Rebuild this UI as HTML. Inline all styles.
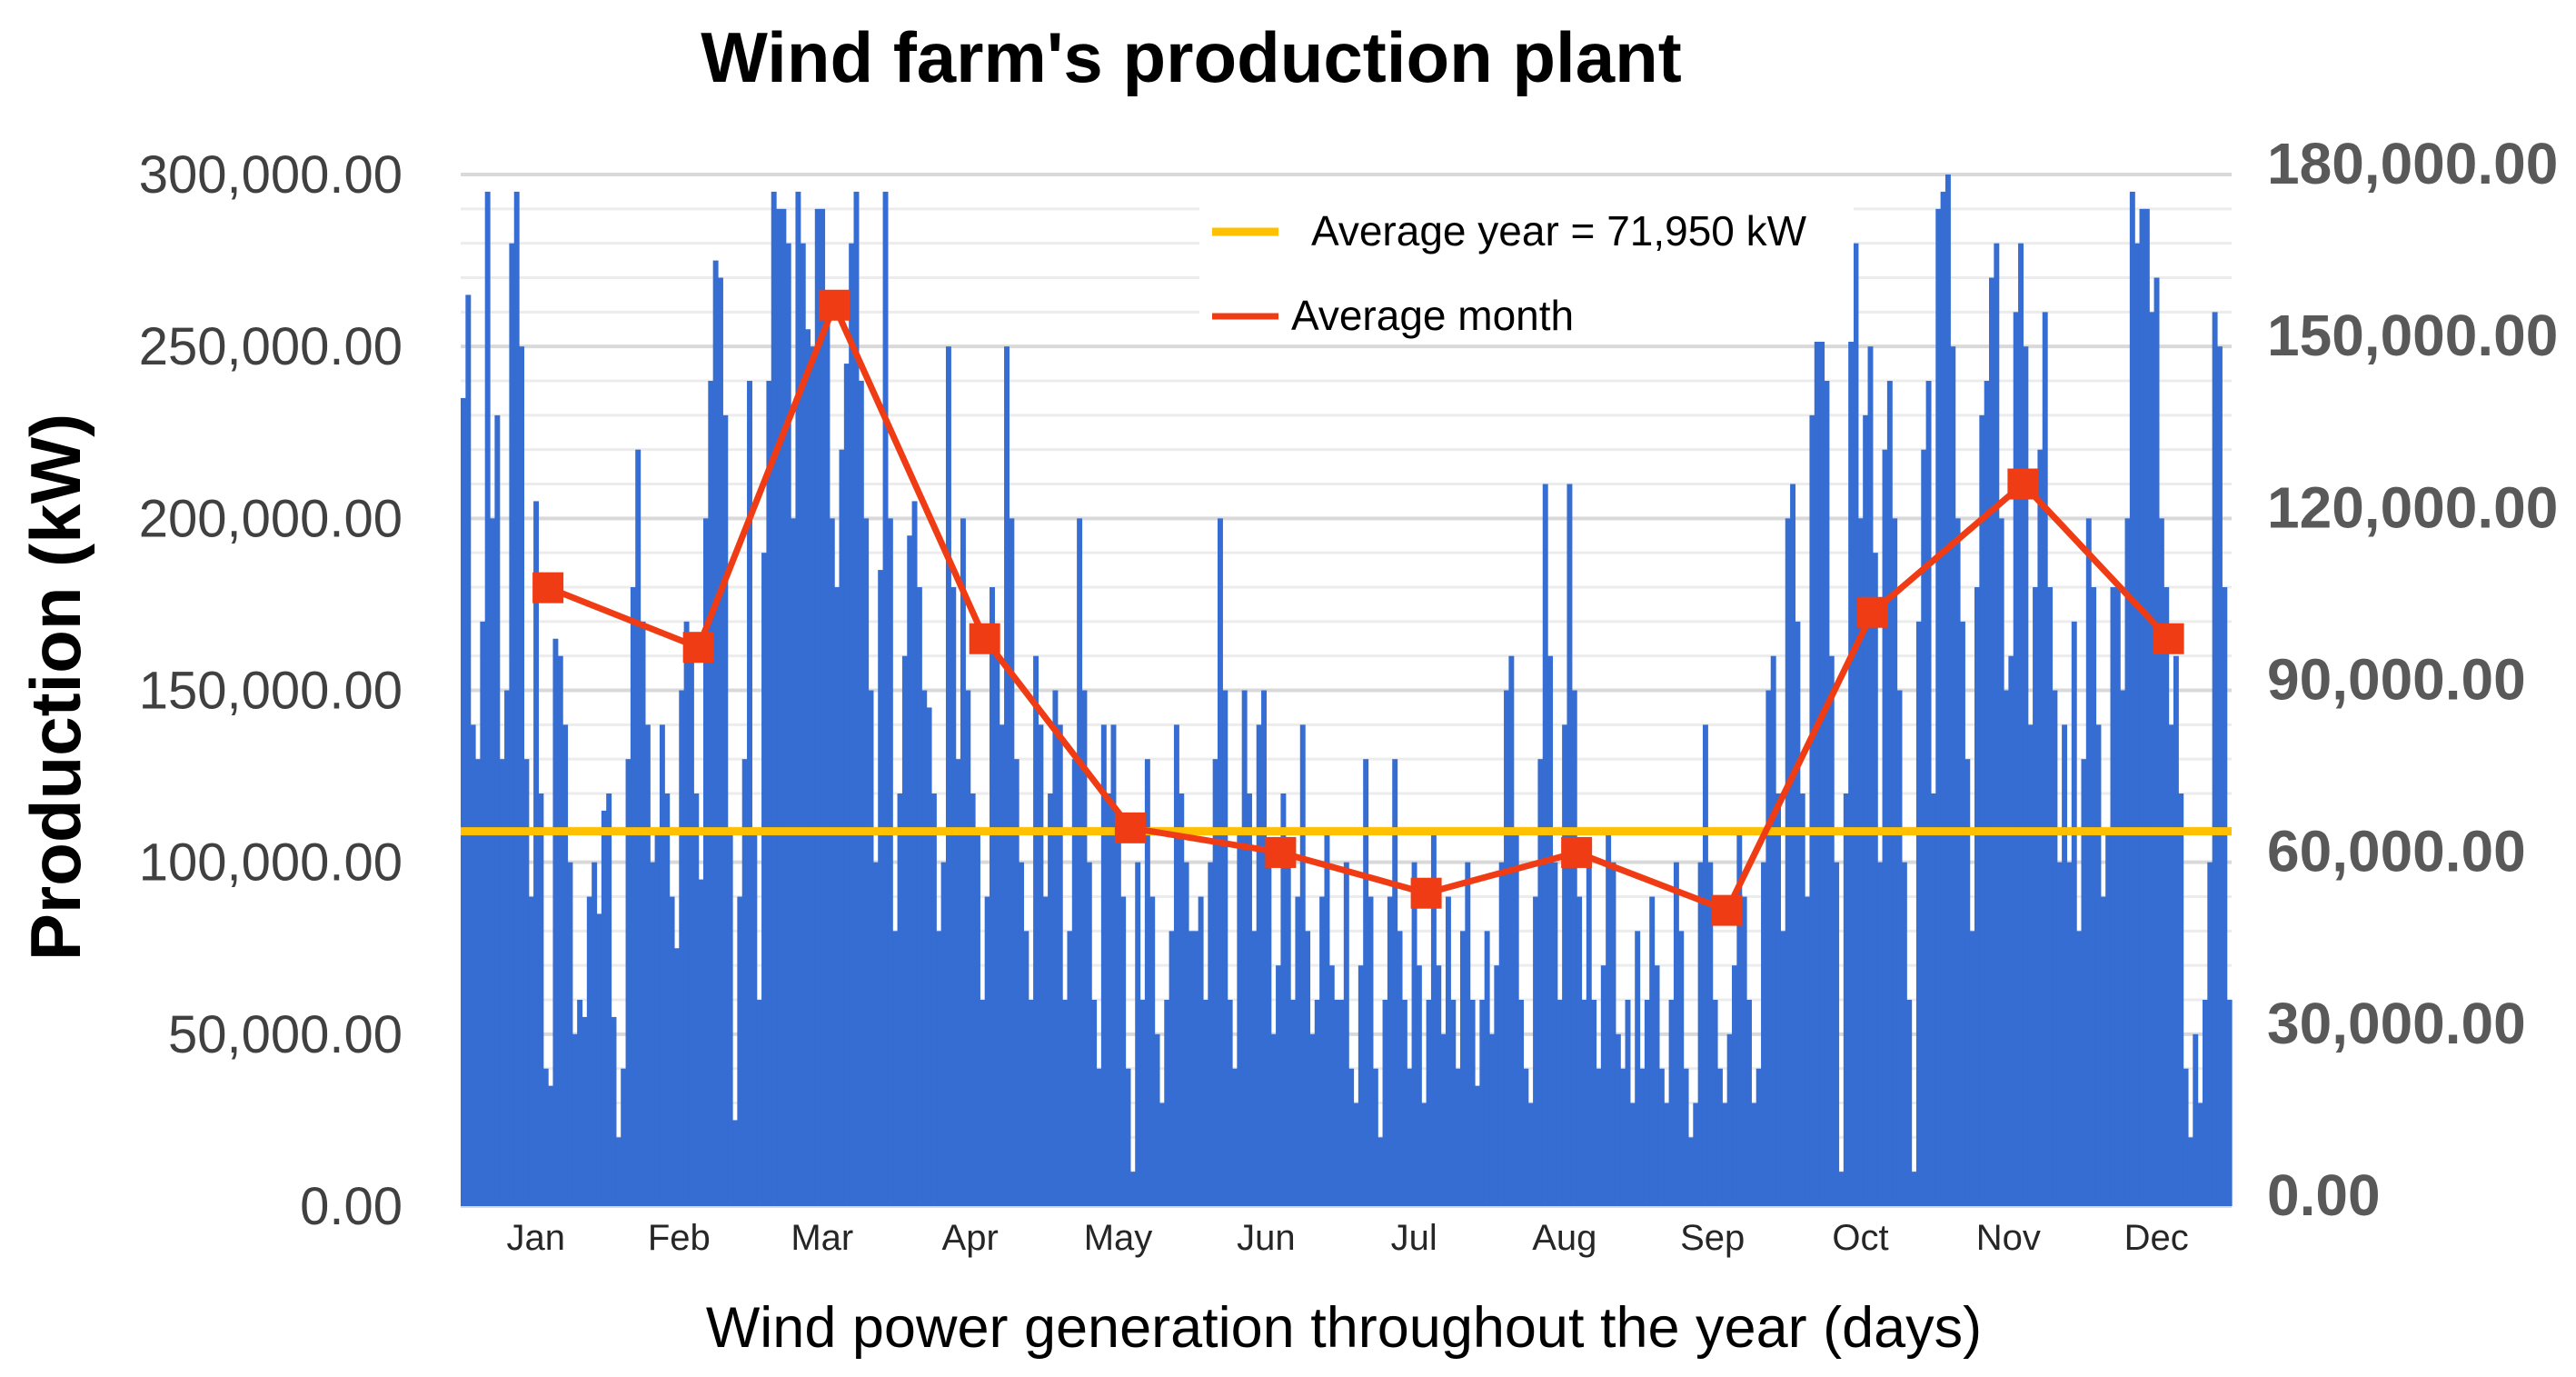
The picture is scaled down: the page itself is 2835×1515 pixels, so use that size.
<!DOCTYPE html>
<html><head><meta charset="utf-8"><style>
html,body{margin:0;padding:0;background:#fff;}
svg{display:block;font-family:"Liberation Sans",sans-serif;}
</style></head><body>
<svg id="chart" width="2835" height="1515" viewBox="0 0 2835 1515">
<text x="1311" y="90" text-anchor="middle" font-size="78" font-weight="bold" fill="#000">Wind farm's production plant</text>
<text transform="translate(88,756) rotate(-90)" text-anchor="middle" font-size="78" font-weight="bold" fill="#000">Production (kW)</text>
<text x="1479" y="1482" text-anchor="middle" font-size="63" fill="#000">Wind power generation throughout the year (days)</text>
<g id="grid"></g><g id="bars"></g><g id="avgline"></g><g id="monthline"></g><g id="axes"></g>
<g>
<rect x="1320" y="196" width="720" height="180" fill="#fff"/>
<line x1="1334" y1="255" x2="1407" y2="255" stroke="#FFC000" stroke-width="9"/>
<text x="1443" y="270" font-size="46" fill="#000">Average year = 71,950 kW</text>
<line x1="1334" y1="348" x2="1407" y2="348" stroke="#F03C14" stroke-width="7"/>
<text x="1421" y="363" font-size="46" fill="#000">Average month</text>
</g>
</svg>
<script>
const months=["Jan","Feb","Mar","Apr","May","Jun","Jul","Aug","Sep","Oct","Nov","Dec"];
const monthDays=[31,28,31,30,31,30,31,31,30,31,30,31];
const leftTicks=[0,50000,100000,150000,200000,250000,300000];
const leftTickLabels=["0.00","50,000.00","100,000.00","150,000.00","200,000.00","250,000.00","300,000.00"];
const rightTicks=[0,30000,60000,90000,120000,150000,180000];
const rightTickLabels=["0.00","30,000.00","60,000.00","90,000.00","120,000.00","150,000.00","180,000.00"];
const averageYear=109000;
const monthAverage=[107900,97500,157200,99000,66000,61700,54600,61700,51600,103600,126000,99000];
const dailyK=[
235,265,140,130,170,295,200,230,130,150,280,295,250,130,90,205,120,40,35,165,160,140,100,50,60,55,90,100,85,115,120,
55,20,40,130,180,220,170,140,100,110,140,120,90,75,150,170,160,120,95,200,240,275,270,230,110,25,90,130,
240,110,60,190,240,295,290,290,280,200,295,280,255,250,290,290,260,200,180,220,245,280,295,240,200,150,100,185,295,200,80,
120,160,195,205,180,150,145,120,80,100,250,180,130,200,150,120,110,60,90,180,160,140,250,200,130,100,80,60,160,140,
90,120,150,140,60,80,130,200,150,100,60,40,140,120,140,110,90,40,10,100,60,130,90,50,30,60,80,140,120,100,80,
80,90,60,100,130,200,150,60,40,110,150,120,80,140,150,100,50,70,120,100,60,90,140,80,50,60,90,110,70,60,
60,100,40,30,70,130,90,40,20,60,90,130,80,60,40,100,70,30,60,110,70,50,90,60,40,80,100,60,35,60,80,
50,70,100,150,160,110,60,40,30,90,130,210,160,100,60,140,210,150,90,60,100,60,40,70,110,100,50,40,60,30,80,
40,60,90,70,40,30,60,100,80,40,20,30,100,140,100,60,40,30,50,70,110,90,60,30,40,100,150,160,120,80,
200,210,170,120,90,230,255,280,240,160,100,10,120,270,280,200,230,250,190,100,220,240,200,150,100,60,10,170,220,240,120,
290,295,300,250,200,170,130,80,180,230,240,270,280,200,150,160,260,280,250,140,180,220,260,180,150,100,140,100,170,80,
130,200,180,140,90,110,180,180,150,200,295,280,290,290,260,270,200,180,140,160,120,40,20,50,30,60,100,260,250,180,60
];
const NS="http://www.w3.org/2000/svg";
const X0=507,X1=2456,Y0=1327,YTOP=192;
const nDays=365;
const xDay=d=>X0+(X1-X0)*d/nDays;
const yL=v=>Y0-(Y0-YTOP)*v/300000;
const yR=v=>Y0-(Y0-YTOP)*v/180000;
function mk(tag,attrs,parent){const e=document.createElementNS(NS,tag);for(const k in attrs)e.setAttribute(k,attrs[k]);parent.appendChild(e);return e;}
const grid=document.getElementById('grid');
for(let v=0;v<=300000;v+=10000){
 const l=mk('line',{x1:X0,x2:X1,y1:yL(v),y2:yL(v),stroke:v%50000===0?'#d9d9d9':'#ececec','stroke-width':v%50000===0?4:3},grid);
 
 
}
const bars=document.getElementById('bars');
const bw=(X1-X0)/nDays;
dailyK.forEach((v,i)=>{
 const y=yL(v*1000);
 const r=mk('rect',{x:xDay(i),y:y,width:bw+0.6,height:Y0-y,fill:'#366DD2'},bars);
 
 
});
const av=document.getElementById('avgline');
const al=mk('line',{x1:X0,x2:X1,y1:yL(averageYear),y2:yL(averageYear),stroke:'#FFC000','stroke-width':9},av);


let start=0;const starts=[];monthDays.forEach(d=>{starts.push(start);start+=d;});
const ml=document.getElementById('monthline');
const pts=monthAverage.map((v,i)=>[xDay(starts[i]+18),yR(v)]);
const pl=mk('polyline',{points:pts.map(p=>p.join(',')).join(' '),fill:'none',stroke:'#F03C14','stroke-width':7,'stroke-linejoin':'round'},ml);


pts.forEach(p=>{
 const m=mk('rect',{x:p[0]-17,y:p[1]-17,width:34,height:34,fill:'#F03C14'},ml);
 
 
});
const ax=document.getElementById('axes');
leftTicks.forEach((v,i)=>{
 const t=mk('text',{x:443,y:yL(v)+20,'text-anchor':'end','font-size':58,fill:'#404040'},ax);
 t.textContent=leftTickLabels[i];
 
 
});
rightTicks.forEach((v,i)=>{
 const t=mk('text',{x:2495,y:yR(v)+10,'font-size':64,'font-weight':'bold',fill:'#595959'},ax);
 t.textContent=rightTickLabels[i];
 
 
});
months.forEach((m,i)=>{
 const t=mk('text',{x:xDay(starts[i]+monthDays[i]/2),y:1375,'text-anchor':'middle','font-size':40,fill:'#262626'},ax);
 t.textContent=m;
 
 
});
</script>
</body></html>
